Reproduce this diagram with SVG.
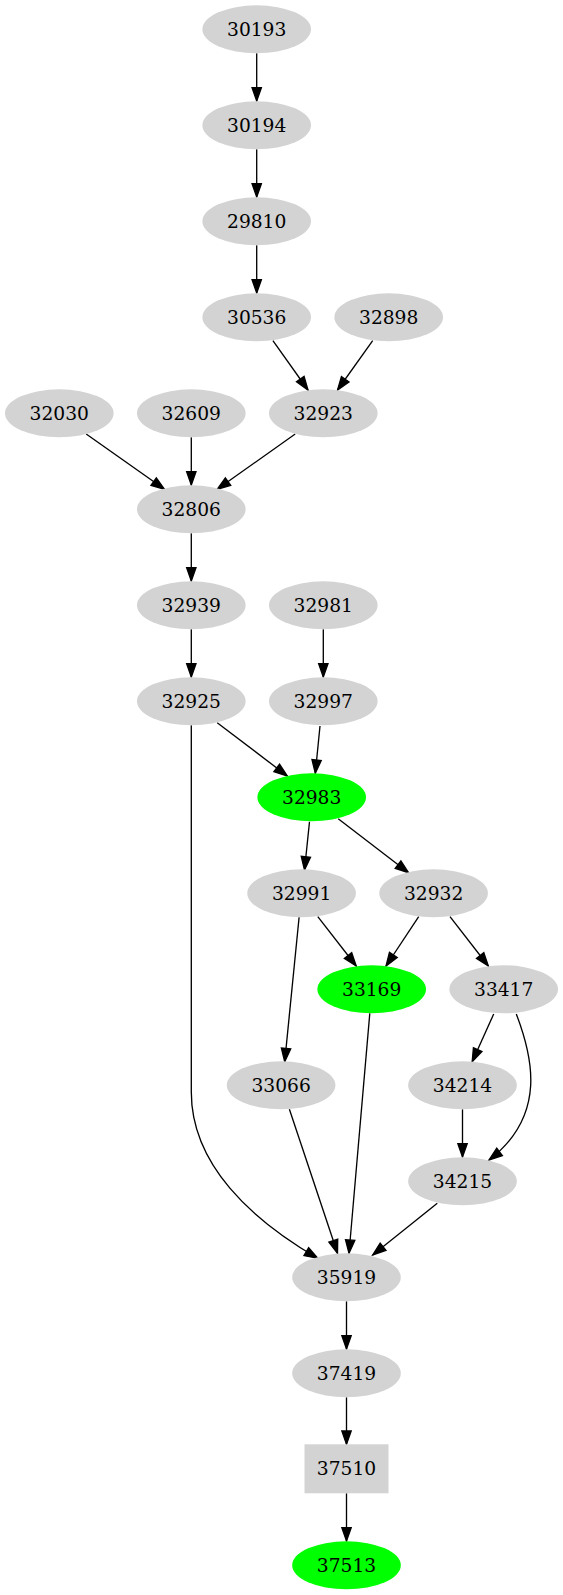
<svg xmlns="http://www.w3.org/2000/svg" width="563" height="1595" viewBox="0 0 563 1595">
<style>
.n ellipse, .n rect { fill: #d3d3d3; stroke: none; }
.g ellipse { fill: #00ff00; }
.n text { font-family: "DejaVu Serif", "Liberation Serif", serif; font-size: 18.67px; fill: #000; text-anchor: middle; }
#edges path { fill: none; stroke: #000; stroke-width: 1.33; marker-end: url(#arr); }
</style>
<defs>
<marker id="arr" markerUnits="userSpaceOnUse" markerWidth="14" markerHeight="10" refX="13.3" refY="4.67" orient="auto" overflow="visible">
<path d="M0,0 L13.3,4.67 L0,9.33 z" fill="#000" stroke="#000" stroke-width="1.33"/>
</marker>
</defs>
<rect width="563" height="1595" fill="#fff"/>
<g id="edges">
<path d="M256.7,53.3 L256.7,101"/>
<path d="M256.7,149.3 L256.7,197"/>
<path d="M256.7,245.3 L256.7,293"/>
<path d="M272.9,340.7 L308,390"/>
<path d="M372.7,340.7 L337.5,390"/>
<path d="M86.2,434 L164.5,489.3"/>
<path d="M191.3,437.3 L191.3,485"/>
<path d="M295.2,434 L217.2,489.3"/>
<path d="M191.3,533.3 L191.3,581"/>
<path d="M191.3,629.3 L191.3,677"/>
<path d="M323.3,629.3 L323.3,677"/>
<path d="M217.2,722.7 L287.3,776"/>
<path d="M320,726 L315.3,773.3"/>
<path d="M309.5,821.7 L304.5,870"/>
<path d="M338.2,818.7 L408.6,872.7"/>
<path d="M191.3,725.3 L191.3,1092 C191.3,1165 252,1220 317.8,1258.3"/>
<path d="M299.1,917.3 L284.7,1061.7"/>
<path d="M317.8,916.7 L356.2,966"/>
<path d="M418.7,916.7 L386,966"/>
<path d="M450,916.7 L488.3,966"/>
<path d="M369.8,1013.3 L349,1253.3"/>
<path d="M493.7,1014 L472.2,1061.7"/>
<path d="M516.3,1014 C532,1055 548,1115 489,1160"/>
<path d="M289.4,1109.3 L337.5,1253.3"/>
<path d="M462.5,1109.3 L462.5,1157"/>
<path d="M437.3,1203.3 L372.7,1255"/>
<path d="M346.5,1301.3 L346.5,1349"/>
<path d="M346.5,1397.3 L346.5,1444.3"/>
<path d="M346.5,1493.3 L346.5,1541"/>
</g>
<g id="n30193" class="n"><ellipse cx="256.7" cy="29.3" rx="54.3" ry="24"/><text x="256.7" y="35.8">30193</text></g>
<g id="n30194" class="n"><ellipse cx="256.7" cy="125.3" rx="54.3" ry="24"/><text x="256.7" y="131.8">30194</text></g>
<g id="n29810" class="n"><ellipse cx="256.7" cy="221.3" rx="54.3" ry="24"/><text x="256.7" y="227.8">29810</text></g>
<g id="n30536" class="n"><ellipse cx="256.7" cy="317.3" rx="54.3" ry="24"/><text x="256.7" y="323.8">30536</text></g>
<g id="n32898" class="n"><ellipse cx="388.7" cy="317.3" rx="54.3" ry="24"/><text x="388.7" y="323.8">32898</text></g>
<g id="n32030" class="n"><ellipse cx="59.3" cy="413.3" rx="54.3" ry="24"/><text x="59.3" y="419.8">32030</text></g>
<g id="n32609" class="n"><ellipse cx="191.3" cy="413.3" rx="54.3" ry="24"/><text x="191.3" y="419.8">32609</text></g>
<g id="n32923" class="n"><ellipse cx="323.3" cy="413.3" rx="54.3" ry="24"/><text x="323.3" y="419.8">32923</text></g>
<g id="n32806" class="n"><ellipse cx="191.3" cy="509.3" rx="54.3" ry="24"/><text x="191.3" y="515.8">32806</text></g>
<g id="n32939" class="n"><ellipse cx="191.3" cy="605.3" rx="54.3" ry="24"/><text x="191.3" y="611.8">32939</text></g>
<g id="n32981" class="n"><ellipse cx="323.3" cy="605.3" rx="54.3" ry="24"/><text x="323.3" y="611.8">32981</text></g>
<g id="n32925" class="n"><ellipse cx="191.3" cy="701.3" rx="54.3" ry="24"/><text x="191.3" y="707.8">32925</text></g>
<g id="n32997" class="n"><ellipse cx="323.3" cy="701.3" rx="54.3" ry="24"/><text x="323.3" y="707.8">32997</text></g>
<g id="n32983" class="n g"><ellipse cx="311.7" cy="797.3" rx="54.3" ry="24"/><text x="311.7" y="803.8">32983</text></g>
<g id="n32991" class="n"><ellipse cx="301.6" cy="893.3" rx="54.3" ry="24"/><text x="301.6" y="899.8">32991</text></g>
<g id="n32932" class="n"><ellipse cx="433.6" cy="893.3" rx="54.3" ry="24"/><text x="433.6" y="899.8">32932</text></g>
<g id="n33169" class="n g"><ellipse cx="371.7" cy="989.3" rx="54.3" ry="24"/><text x="371.7" y="995.8">33169</text></g>
<g id="n33417" class="n"><ellipse cx="503.7" cy="989.3" rx="54.3" ry="24"/><text x="503.7" y="995.8">33417</text></g>
<g id="n33066" class="n"><ellipse cx="281.1" cy="1085.3" rx="54.3" ry="24"/><text x="281.1" y="1091.8">33066</text></g>
<g id="n34214" class="n"><ellipse cx="462.5" cy="1085.3" rx="54.3" ry="24"/><text x="462.5" y="1091.8">34214</text></g>
<g id="n34215" class="n"><ellipse cx="462.5" cy="1181.3" rx="54.3" ry="24"/><text x="462.5" y="1187.8">34215</text></g>
<g id="n35919" class="n"><ellipse cx="346.5" cy="1277.3" rx="54.3" ry="24"/><text x="346.5" y="1283.8">35919</text></g>
<g id="n37419" class="n"><ellipse cx="346.5" cy="1373.3" rx="54.3" ry="24"/><text x="346.5" y="1379.8">37419</text></g>
<g id="n37510" class="n"><rect x="304.5" y="1444.3" width="84" height="49"/><text x="346.5" y="1475.3">37510</text></g>
<g id="n37513" class="n g"><ellipse cx="346.5" cy="1565.3" rx="54.3" ry="24"/><text x="346.5" y="1571.8">37513</text></g>
</svg>
